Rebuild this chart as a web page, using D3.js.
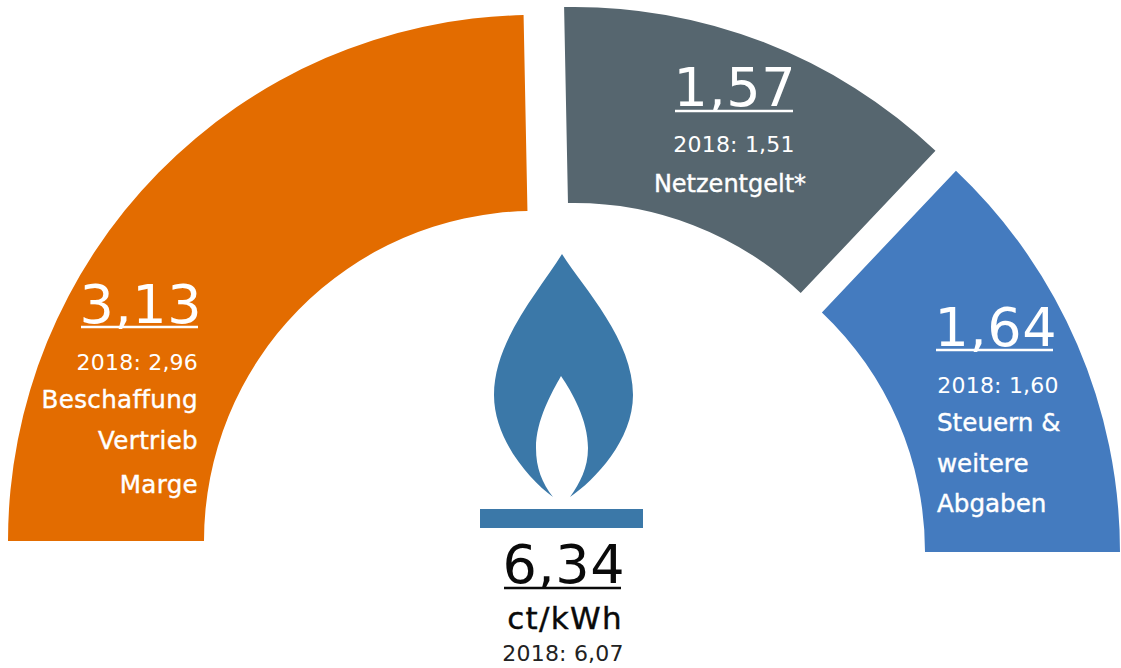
<!DOCTYPE html>
<html><head><meta charset="utf-8">
<script src="https://cdnjs.cloudflare.com/ajax/libs/d3/7.8.5/d3.min.js"></script>
<style>html,body{margin:0;padding:0;background:#fff}svg{display:block}text{font-family:"DejaVu Sans",sans-serif}</style>
</head><body><svg id="c" width="1121" height="668"></svg>
<script>
const categories = ["Beschaffung Vertrieb Marge","Netzentgelt*","Steuern & weitere Abgaben"];
const values = [3.13,1.57,1.64];
const valueLabels = ["3,13","1,57","1,64"];
const priorLabels = ["2018: 2,96","2018: 1,51","2018: 1,60"];
const nameLines = [["Beschaffung","Vertrieb","Marge"],["Netzentgelt*"],["Steuern &","weitere","Abgaben"]];
const colors = ["#e36c00","#56666f","#447bbf"];
const totalLabel = "6,34", unitLabel = "ct/kWh", totalPrior = "2018: 6,07";
const flameColor = "#3b78a8";

const svg = d3.select("#c");
const pie = d3.pie().sort(null).startAngle(-Math.PI/2).endAngle(Math.PI/2)(values);
const centers = [[534,541],[574.5,532],[595,552]];
const radii = [[330,526],[329,525],[330,525]];
svg.selectAll("path.seg").data(pie).join("path").attr("class","seg")
  .attr("transform",(d,i)=>`translate(${centers[i]})`)
  .attr("d",(d,i)=>d3.arc().innerRadius(radii[i][0]).outerRadius(radii[i][1])(d))
  .attr("fill",(d,i)=>colors[i]);

function bigNumber(label,x0,x1,base,ul,col){
  svg.append("text").attr("x",x0-1.5).attr("y",base).attr("font-size",54)
    .style("letter-spacing","0.6px").attr("fill",col).text(label);
  svg.append("line").attr("x1",x0).attr("x2",x1).attr("y1",ul).attr("y2",ul).attr("stroke",col).attr("stroke-width",2.5);
}
const layout = [
 {ulx:[81,198],vy:323,uly:327,px:198,pa:"end",py:370,nx:198,na:"end",ny:[408,449,493]},
 {ulx:[675,793],vy:106,uly:111,px:734,pa:"middle",py:152,nx:730,na:"middle",ny:[192]},
 {ulx:[936,1053],vy:346,uly:350,px:998,pa:"middle",py:393,nx:937,na:"start",ny:[431,472,512]}
];
layout.forEach((l,i)=>{
  bigNumber(valueLabels[i],l.ulx[0],l.ulx[1],l.vy,l.uly,"#fff");
  svg.append("text").attr("x",l.px).attr("y",l.py).attr("text-anchor",l.pa).attr("font-size",22)
    .style("letter-spacing","0.2px").attr("fill","#fff").text(priorLabels[i]);
  nameLines[i].forEach((t,j)=>{
    svg.append("text").attr("x",l.nx).attr("y",l.ny[j]).attr("text-anchor",l.na)
      .attr("font-size",i==1?24:24.6).style("letter-spacing",i==0?"0.3px":"0")
      .attr("stroke","#fff").attr("stroke-width",0.4).attr("fill","#fff").text(t);
  });
});
// flame
svg.append("path").attr("fill",flameColor)
 .attr("d","M562,254 C540,290 494,340 494,395 C494,440 530,480 553,497 C542,483 536,468 536,448 C536,420 552,392 561,376 C572,392 588,420 588,448 C588,468 580,483 570,497 C595,480 633,440 633,395 C633,340 585,290 562,254 Z");
svg.append("rect").attr("x",480).attr("y",509).attr("width",163).attr("height",19).attr("fill",flameColor);
bigNumber(totalLabel,504,621,583,588,"#0a0a0a");
svg.append("text").attr("x",565).attr("y",629).attr("text-anchor","middle").attr("font-size",31)
  .style("letter-spacing","1.3px").attr("stroke","#0a0a0a").attr("stroke-width",0.4).attr("fill","#0a0a0a").text(unitLabel);
svg.append("text").attr("x",563).attr("y",661).attr("text-anchor","middle").attr("font-size",22)
  .style("letter-spacing","0.2px").attr("fill","#222").text(totalPrior);
</script></body></html>
